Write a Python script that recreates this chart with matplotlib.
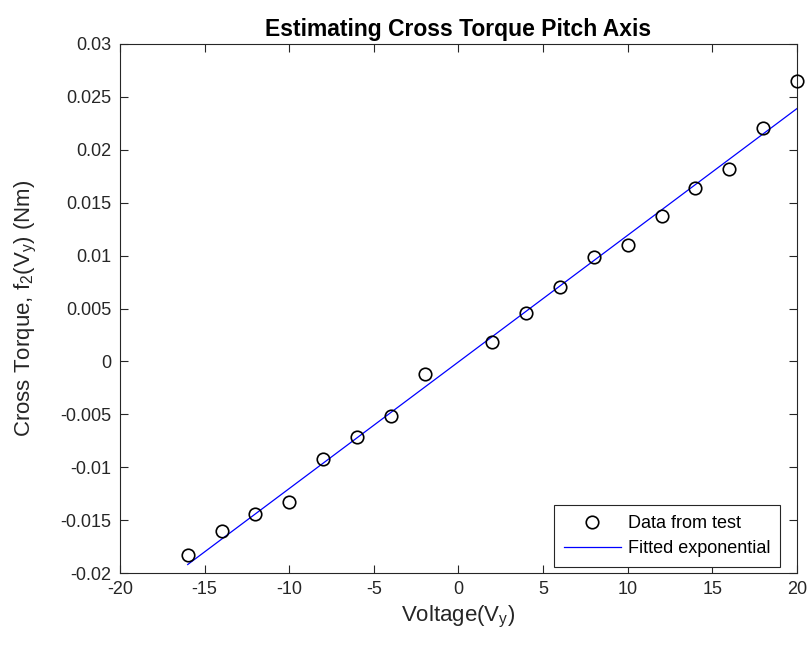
import matplotlib
matplotlib.use("Agg")
import matplotlib.pyplot as plt

plt.rcParams['font.family'] = ['Liberation Sans', 'DejaVu Sans']
plt.rcParams['mathtext.fontset'] = 'custom'
plt.rcParams['mathtext.rm'] = 'Liberation Sans'
plt.rcParams['mathtext.it'] = 'Liberation Sans'

# Measured cross torque at each test voltage
voltage = [-16, -14, -12, -10, -8, -6, -4, -2, 2, 4, 6, 8, 10, 12, 14, 16, 18, 20]
torque = [-0.0183, -0.0160, -0.0144, -0.0133, -0.0092, -0.0071, -0.0052, -0.0012,
          0.0018, 0.0046, 0.0070, 0.0099, 0.0110, 0.0137, 0.0164, 0.0182, 0.0221, 0.0265]

# Fitted curve
fit_v = [-16, 20]
fit_t = [-0.0192, 0.0239]

xticks = [-20, -15, -10, -5, 0, 5, 10, 15, 20]
yticks = [-0.02, -0.015, -0.01, -0.005, 0, 0.005, 0.01, 0.015, 0.02, 0.025, 0.03]
ytick_labels = ['-0.02', '-0.015', '-0.01', '-0.005', '0', '0.005', '0.01',
                '0.015', '0.02', '0.025', '0.03']

fig = plt.figure(figsize=(8.12, 6.52), dpi=100)
ax = fig.add_axes([120/812, 1-573/652, 677/812, 529/652])

ax.plot(voltage, torque, 'o', mfc='none', mec='black', ms=9, mew=1.2,
        label='Data from test', zorder=3, clip_on=False)
ax.plot(fit_v, fit_t, '-', color='blue', lw=0.9, label='Fitted exponential')

ax.set_xlim(-20, 20)
ax.set_ylim(-0.02, 0.03)
ax.set_xticks(xticks)
ax.set_xticklabels([str(t) for t in xticks])
ax.set_yticks(yticks)
ax.set_yticklabels(ytick_labels)

gray = '#262626'
for s in ax.spines.values():
    s.set_color(gray)
    s.set_linewidth(0.8)
ax.tick_params(direction='in', length=6, width=0.8, colors=gray, labelsize=13,
               top=True, right=True, labelcolor=gray, pad=6)

ax.set_title('Estimating Cross Torque Pitch Axis', fontsize=16.5, fontweight='bold', pad=6)
ax.set_xlabel('Voltage(V$_\\mathregular{y}$)', fontsize=16, color=gray)
ax.set_ylabel('Cross Torque, f$_\\mathregular{2}$(V$_\\mathregular{y}$) (Nm)', fontsize=16, color=gray)
ax.xaxis.set_label_coords(0.5, -0.058)
ax.yaxis.set_label_coords(-0.12, 0.5)

leg = ax.legend(loc='lower right', bbox_to_anchor=(0.975, 0.011), fontsize=13,
                fancybox=False, edgecolor=gray, framealpha=1, handlelength=3.2,
                borderpad=0.55, labelspacing=0.45, handletextpad=0.35, borderaxespad=0)
leg.get_frame().set_linewidth(0.8)

fig.savefig('out.png', dpi=100)
